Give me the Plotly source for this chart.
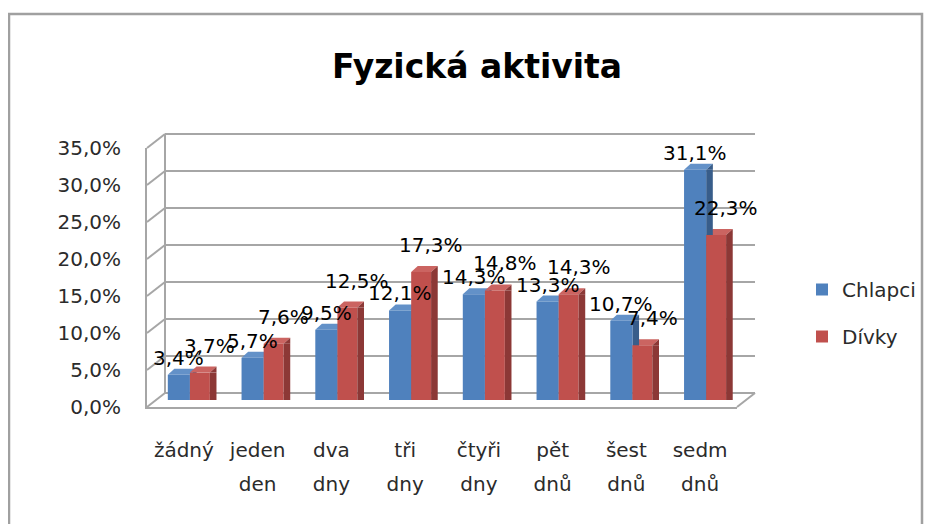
import plotly.graph_objects as go

categories_line1 = ["žádný", "jeden", "dva", "tři", "čtyři", "pět", "šest", "sedm"]
categories_line2 = ["", "den", "dny", "dny", "dny", "dnů", "dnů", "dnů"]
chlapci = [3.4, 5.7, 9.5, 12.1, 14.3, 13.3, 10.7, 31.1]
divky = [3.7, 7.6, 12.5, 17.3, 14.8, 14.3, 7.4, 22.3]
y_ticks = [0, 5, 10, 15, 20, 25, 30, 35]
y_tick_labels = ["0,0%", "5,0%", "10,0%", "15,0%", "20,0%", "25,0%", "30,0%", "35,0%"]

BLUE, BLUE_D, BLUE_T = "#4F81BD", "#385D8A", "#6391C8"
RED, RED_D, RED_T = "#C0504D", "#8C3836", "#CB6461"
GRID = "#A6A6A6"
FONT = "DejaVu Sans"
TXT = "#2b2b2b"

# figure is 927x516 (the page adds an 8px body margin)
FW, FH = 927, 516
L, T = 139, 133
W, H = 610, 266
R, B = FW - L - W, FH - T - H
PW, PH = 590, 259        # front plot area
DX, DY = 18, 14          # 3D depth of the box
BX, BY = 9, 7            # bars stand in the middle of the depth
YMAX = 35
UNIT = PW / 8            # pixels per category

# bar geometry (in category units)
B_OFF, B_W = -0.34, 0.30
R_OFF, R_W = -0.04, 0.27
S_W = 0.09
TOP_DY = 6

xs = list(range(len(chlapci)))

fig = go.Figure()

def fmt(v):
    return f"{v:.1f}".replace(".", ",") + "%"

fig.add_trace(go.Bar(x=xs, y=chlapci, offset=B_OFF + B_W, width=S_W, marker=dict(color=BLUE_D, line_width=0),
                     xaxis="x2", yaxis="y2", showlegend=False, hoverinfo="skip"))
fig.add_trace(go.Bar(x=xs, y=chlapci, name="Chlapci", offset=B_OFF, width=B_W,
                     marker=dict(color=BLUE, line_width=0), xaxis="x2", yaxis="y2",
                     legendgroup="a"))
fig.add_trace(go.Bar(x=xs, y=divky, name="Dívky", offset=R_OFF, width=R_W,
                     marker=dict(color=RED, line_width=0), xaxis="x2", yaxis="y2",
                     legendgroup="b"))
fig.add_trace(go.Bar(x=xs, y=divky, offset=R_OFF + R_W, width=S_W, marker=dict(color=RED_D, line_width=0),
                     xaxis="x2", yaxis="y2", showlegend=False, hoverinfo="skip"))
# invisible helper traces so both tick-label rows are drawn
fig.add_trace(go.Scatter(x=[0], y=[0], xaxis="x", yaxis="y", mode="markers",
                         marker=dict(opacity=0), showlegend=False, hoverinfo="skip"))
fig.add_trace(go.Scatter(x=[0], y=[0], xaxis="x3", yaxis="y", mode="markers",
                         marker=dict(opacity=0), showlegend=False, hoverinfo="skip"))

annotations = []
for i in xs:
    annotations.append(dict(x=i + B_OFF + B_W / 2, y=chlapci[i], xref="x2", yref="y2", text=fmt(chlapci[i]),
                            showarrow=False, yshift=17, yanchor="middle",
                            font=dict(family=FONT, size=20, color="black")))
    annotations.append(dict(x=i + R_OFF + R_W / 2, y=divky[i], xref="x2", yref="y2", text=fmt(divky[i]),
                            showarrow=False, yshift=27, xshift=10, yanchor="middle",
                            font=dict(family=FONT, size=20, color="black")))

# 3D box frame (paper referenced so it is not clipped to the plot area)
def py(v):
    return v / YMAX * PH / H

shapes = []
for v in y_ticks:
    shapes.append(dict(type="line", xref="paper", yref="paper", xsizemode="pixel", ysizemode="pixel",
                       xanchor=0, yanchor=py(v), x0=0, x1=DX, y0=0, y1=DY,
                       line=dict(color=GRID, width=2), layer="below"))
    shapes.append(dict(type="line", xref="paper", yref="paper", xsizemode="pixel", ysizemode="pixel",
                       xanchor=0, yanchor=py(v), x0=DX, x1=DX + PW, y0=DY, y1=DY,
                       line=dict(color=GRID, width=2), layer="below"))
shapes.append(dict(type="line", xref="paper", yref="paper", xsizemode="pixel", ysizemode="pixel",
                   xanchor=0, yanchor=0, x0=DX, x1=DX, y0=DY, y1=DY + PH,
                   line=dict(color=GRID, width=2), layer="below"))
shapes.append(dict(type="line", xref="paper", yref="paper", xsizemode="pixel", ysizemode="pixel",
                   xanchor=PW / W, yanchor=0, x0=0, x1=DX, y0=0, y1=DY,
                   line=dict(color=GRID, width=2), layer="below"))
# outer chart frame
shapes.append(dict(type="rect", xref="paper", yref="paper",
                   x0=(1 - L) / W, x1=(914 - L) / W,
                   y0=(FH - B - 540) / H, y1=(FH - B - 6) / H,
                   line=dict(color="#A0A0A0", width=2.5), layer="below"))

# 3D top faces of the bars (anchored at each bar's top-left corner)
def top_face(anchor_x, value, w, face, side):
    d = S_W * UNIT
    return [
        dict(type="path", xref="x2", yref="y2", xsizemode="pixel", ysizemode="pixel",
             xanchor=anchor_x, yanchor=value,
             path=f"M0,0 L{w:.1f},0 L{w + d:.1f},{TOP_DY} L{d:.1f},{TOP_DY} Z",
             fillcolor=face, line_width=0, layer="below"),
        dict(type="path", xref="x2", yref="y2", xsizemode="pixel", ysizemode="pixel",
             xanchor=anchor_x, yanchor=value,
             path=f"M{w:.1f},0 L{w + d:.1f},{TOP_DY} L{w + d:.1f},0 Z",
             fillcolor=side, line_width=0, layer="below"),
    ]

for i in xs:
    shapes += top_face(i + B_OFF, chlapci[i], B_W * UNIT, BLUE_T, BLUE_D)
    shapes += top_face(i + R_OFF, divky[i], R_W * UNIT, RED_T, RED_D)

fig.update_layout(
    width=FW, height=FH,
    margin=dict(l=L, r=R, t=T, b=B, autoexpand=False),
    paper_bgcolor="white", plot_bgcolor="rgba(0,0,0,0)",
    barmode="overlay",
    title=dict(text="<b>Fyzická aktivita</b>", x=(469 - L) / W, xref="paper", xanchor="center",
               y=1 - 58 / FH, yanchor="middle",
               font=dict(family=FONT, size=33, color="black")),
    font=dict(family=FONT, size=20, color=TXT),
    xaxis=dict(domain=[0, PW / W], range=[-0.5, 7.5], tickvals=xs, ticktext=categories_line1,
               showgrid=False, zeroline=False, showline=True, linecolor=GRID, linewidth=2,
               ticks="", ticklabelstandoff=24, automargin=False,
               tickfont=dict(size=20, color=TXT)),
    xaxis3=dict(overlaying="x", range=[-0.5, 7.5], tickvals=xs, ticktext=categories_line2,
                showgrid=False, zeroline=False, showline=False, side="bottom", anchor="y",
                ticks="", ticklabelstandoff=63, automargin=False,
                tickfont=dict(size=20, color=TXT)),
    yaxis=dict(domain=[0, PH / H], range=[0, YMAX], tickvals=y_ticks, ticktext=y_tick_labels,
               showgrid=False, zeroline=False, showline=True, linecolor=GRID, linewidth=2,
               ticks="", ticklabelstandoff=20, automargin=False,
               tickfont=dict(size=20, color=TXT)),
    xaxis2=dict(domain=[BX / W, (BX + PW) / W], range=[-0.5, 7.5], anchor="y2", visible=False,
                automargin=False),
    yaxis2=dict(domain=[BY / H, (BY + PH) / H], range=[0, YMAX], anchor="x2", visible=False,
                automargin=False),
    legend=dict(x=(794 - L) / W, y=137 / H, xanchor="left", yanchor="top",
                traceorder="grouped", tracegroupgap=18, bgcolor="rgba(0,0,0,0)",
                font=dict(family=FONT, size=20, color=TXT)),
    annotations=annotations,
    shapes=shapes,
)

fig.write_html("out.html")
